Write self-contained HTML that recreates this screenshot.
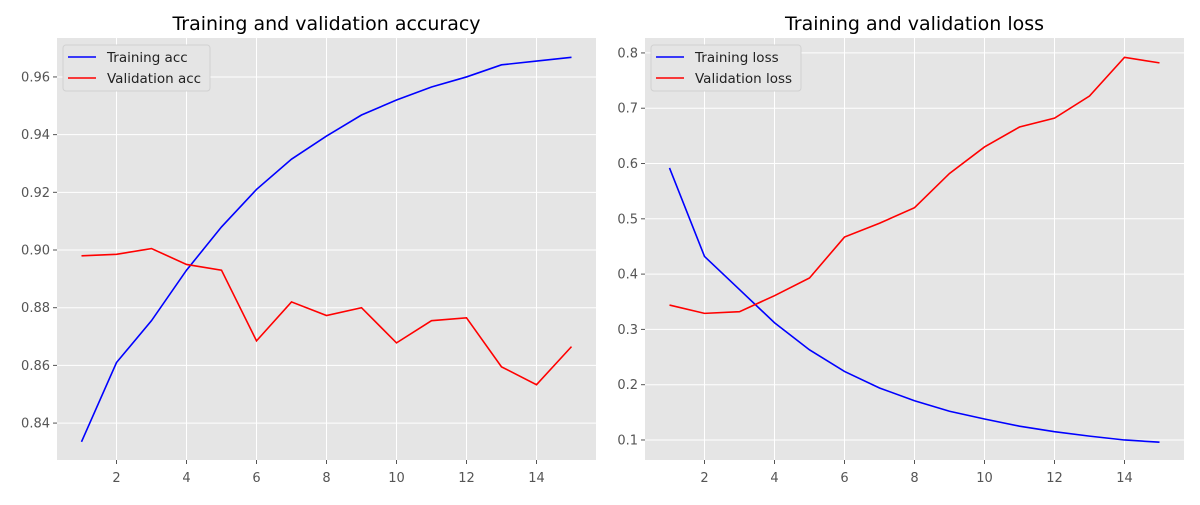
<!DOCTYPE html>
<html><head><meta charset="utf-8"><style>
body{margin:0;background:#fff;font-family:"Liberation Sans","DejaVu Sans",sans-serif}
svg text{font-family:"DejaVu Sans","Liberation Sans",sans-serif}
</style></head><body>
<svg id="c" width="1200" height="500" xmlns="http://www.w3.org/2000/svg"></svg>
<script>
const epochs=[1,2,3,4,5,6,7,8,9,10,11,12,13,14,15];
const trainAcc=[0.8335,0.861,0.8755,0.893,0.908,0.921,0.9315,0.9395,0.9468,0.952,0.9565,0.960,0.9642,0.9655,0.9668];
const valAcc=[0.898,0.8985,0.9005,0.895,0.893,0.8685,0.882,0.8773,0.880,0.8678,0.8755,0.8765,0.8595,0.8533,0.8665];
const trainLoss=[0.592,0.432,0.372,0.312,0.263,0.224,0.194,0.171,0.152,0.138,0.125,0.115,0.107,0.100,0.096];
const valLoss=[0.344,0.329,0.332,0.361,0.393,0.467,0.492,0.520,0.582,0.630,0.666,0.682,0.722,0.792,0.782];
const xTicks=[2,4,6,8,10,12,14];
const accTicks=[0.84,0.86,0.88,0.90,0.92,0.94,0.96];
const lossTicks=[0.1,0.2,0.3,0.4,0.5,0.6,0.7,0.8];
const NS="http://www.w3.org/2000/svg";
const svg=document.getElementById('c');
function mk(t,a,p){const e=document.createElementNS(NS,t);for(const k in a)e.setAttribute(k,a[k]);(p||svg).appendChild(e);return e;}
function panel(o){
  const g=mk('g',{});
  
  
  const L=o.x0,R=o.x0+539,T=38,B=460;
  const xs=v=>L+(v-0.3)/(15.4)*(R-L);
  const ys=v=>B-(v-o.ymin)/(o.ymax-o.ymin)*(B-T);
  const bg=mk('rect',{x:L,y:T,width:R-L,height:B-T,fill:'#e5e5e5'},g);
  
  
  xTicks.forEach(t=>{const x=xs(t);
    mk('line',{x1:x,x2:x,y1:T,y2:B,stroke:'#fff','stroke-width':1},g);
    mk('line',{x1:x,x2:x,y1:B,y2:B+4,stroke:'#555'},g);
    const tx=mk('text',{x:x,y:B+22,'text-anchor':'middle','font-size':13,fill:'#555'},g);tx.textContent=t;
    
    
  });
  o.ticks.forEach(t=>{const y=ys(t);
    mk('line',{x1:L,x2:R,y1:y,y2:y,stroke:'#fff','stroke-width':1},g);
    mk('line',{x1:L-4,x2:L,y1:y,y2:y,stroke:'#555'},g);
    const tx=mk('text',{x:L-7,y:y+4.5,'text-anchor':'end','font-size':13,fill:'#555'},g);tx.textContent=o.fmt(t);
    
    
  });
  o.series.forEach(s=>{
    const p=mk('polyline',{points:epochs.map((e,i)=>xs(e)+','+ys(s.data[i])).join(' '),fill:'none',stroke:s.color,'stroke-width':1.6},g);
    
    
  });
  const ti=mk('text',{x:(L+R)/2,y:30,'text-anchor':'middle','font-size':19,fill:'#000'},g);ti.textContent=o.title;
  
  
  const lg=mk('g',{},g);
  
  
  mk('rect',{x:L+6,y:45,width:o.lw,height:46,rx:3,fill:'#e5e5e5',stroke:'#ccc','stroke-opacity':0.8},lg);
  o.series.forEach((s,i)=>{const y=57+i*21;
    mk('line',{x1:L+11,x2:L+39,y1:y,y2:y,stroke:s.color,'stroke-width':1.6},lg);
    const t=mk('text',{x:L+50,y:y+5,'font-size':13.5,fill:'#222'},lg);t.textContent=s.label;
    
    
  });
}
panel({name:'accuracy-panel',x0:57,ymin:0.8272,ymax:0.9735,ticks:accTicks,fmt:v=>v.toFixed(2),title:'Training and validation accuracy',lw:147,
  series:[{id:'training-acc-line',label:'Training acc',color:'#0000ff',data:trainAcc},{id:'validation-acc-line',label:'Validation acc',color:'#ff0000',data:valAcc}]});
panel({name:'loss-panel',x0:645,ymin:0.0638,ymax:0.827,ticks:lossTicks,fmt:v=>v.toFixed(1),title:'Training and validation loss',lw:150,
  series:[{id:'training-loss-line',label:'Training loss',color:'#0000ff',data:trainLoss},{id:'validation-loss-line',label:'Validation loss',color:'#ff0000',data:valLoss}]});
</script>
</body></html>
